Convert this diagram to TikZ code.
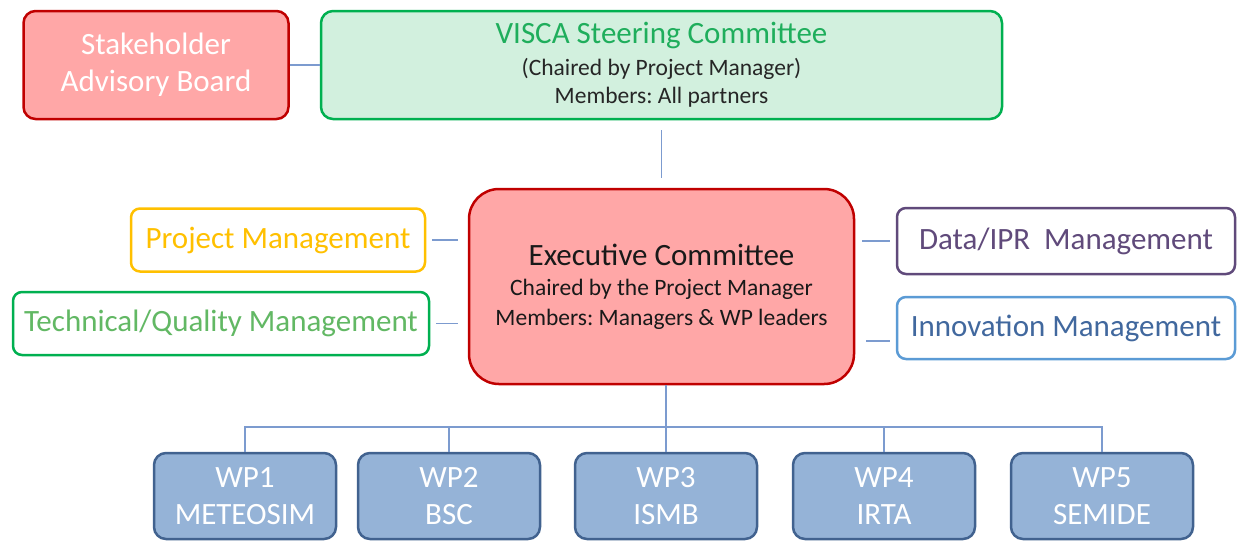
\documentclass[tikz,border=0pt]{standalone}
\usepackage{fontspec}
\setmainfont{Carlito}
\usepackage{tikz}
\frenchspacing

\definecolor{boardred}{HTML}{C00000}
\definecolor{boardfill}{HTML}{FFA7A7}
\definecolor{steergreen}{HTML}{00B050}
\definecolor{steerfill}{HTML}{D2F0DE}
\definecolor{steertext}{HTML}{1FAE5C}
\definecolor{pmorange}{HTML}{FFC000}
\definecolor{tqtext}{HTML}{62B864}
\definecolor{ipr}{HTML}{604A7B}
\definecolor{innoline}{HTML}{5B9BD5}
\definecolor{innotext}{HTML}{41689E}
\definecolor{wpfill}{HTML}{95B3D7}
\definecolor{wpline}{HTML}{41628F}
\definecolor{linkblue}{HTML}{7C9BCF}

\begin{document}
\begin{tikzpicture}[x=1pt,y=-1pt]
			\def \bigtxt {\fontsize{31}{37}\selectfont}
			\def \smalltxt {\fontsize{23.5}{29}\selectfont}
			\tikzset{box/.style={draw, line width=2.5pt, rounded corners=12pt, align=center, inner sep=0pt, font=\bigtxt},
				side/.style={box, rounded corners=9pt, fill=white, minimum width=338pt, minimum height=63pt},
				wpbox/.style={box, draw=wpline, fill=wpfill, text=white, minimum width=182pt, minimum height=86pt},
				link/.style={draw=linkblue, line width=1.6pt}}
			
			\useasboundingbox (0,0) rectangle (1238,542);
			\node[box, draw=boardred, fill=boardfill, text=white, minimum width=265pt, minimum height=108pt] (board) at (156,65) {Stakeholder\\ Advisory Board};
			\node[box, draw=steergreen, fill=steerfill, text=black!85, font=\smalltxt, minimum width=681pt, minimum height=108pt] (steer) at (661.5,65) {{\bigtxt\color{steertext} VISCA Steering Committee}\\[3pt] (Chaired by Project Manager)\\[-1pt] Members: All partners};
			\node[box, draw=boardred, fill=boardfill, text=black!90, font=\smalltxt, rounded corners=30pt, minimum width=385pt, minimum height=195pt] (exec) at (661.5,286.5) {{\bigtxt Executive Committee}\\[1pt] Chaired by the Project Manager\\[1pt] Members: Managers \& WP leaders};
			
			\node[side, draw=pmorange, text=pmorange, minimum width=294pt] (pm) at (278,240) {Project Management};
			\node[side, draw=steergreen, text=tqtext, minimum width=416pt] (tq) at (221,323.5) {Technical/Quality Management};
			\node[side, draw=ipr, text=ipr, minimum height=66pt] (ipr) at (1066,241) {Data/IPR\ \ Management};
			\node[side, draw=innoline, text=innotext, minimum height=62pt] (inno) at (1066,328) {Innovation Management};
			
			\foreach \org/\x [count=\i] in {METEOSIM/245, BSC/449, ISMB/666, IRTA/884, SEMIDE/1102}{
				\node[wpbox] (wp\i) at (\x,496) {WP\i\\ \org};
			}
			\coordinate (bus) at (0,427);
			
			\draw[link] (board.east) -- (steer.west);
			\draw[link, shorten <=10pt, shorten >=10pt] (steer.south) -- (exec.north);
			\draw[link, shorten <=6pt, shorten >=10pt] (pm.east) -- (pm.east -| exec.west);
			\draw[link, shorten <=6pt, shorten >=10pt] (tq.east) -- (tq.east -| exec.west);
			\draw[link, shorten <=6pt, shorten >=7pt] (ipr.west) -- (ipr.west -| exec.east);
			\draw[link, shorten <=6pt, shorten >=11pt] ([yshift=-13pt]inno.west) -- ([yshift=-13pt]inno.west -| exec.east);
			\draw[link] (exec.south -| wp3.north) -- (wp3.north);
			\draw[link] (wp1.north) -- (wp1.north |- bus) -- (wp5.north |- bus) -- (wp5.north);
			\foreach \i in {2,4}{
				\draw[link] (wp\i.north) -- (wp\i.north |- bus);
			}
		\end{tikzpicture}
\end{document}
